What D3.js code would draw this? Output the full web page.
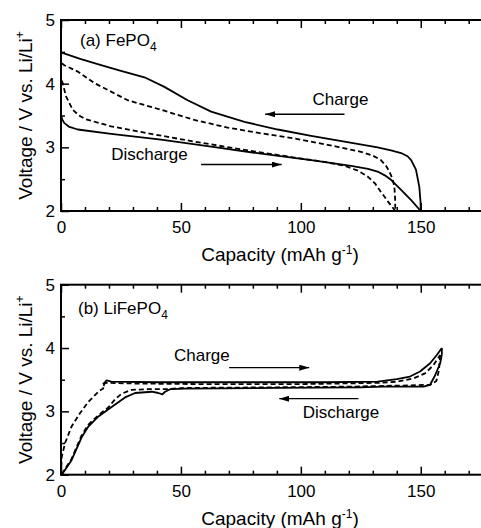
<!DOCTYPE html>
<html>
<head>
<meta charset="utf-8">
<script src="https://cdn.jsdelivr.net/npm/d3@7"></script>
<style>
  html, body { margin: 0; padding: 0; background: #fff; }
  text { font-family: "Liberation Sans", Arial, sans-serif; fill: #000; }
</style>
</head>
<body>
<svg id="chart" width="481" height="528"></svg>
<script>
// ---------------- DATA ----------------
// Capacity (mAh g-1), Voltage (V vs Li/Li+)
const xTicksMajor = [0, 50, 100, 150];
const yTicksMajor = [2, 3, 4, 5];

// (a) FePO4
const aSolidUpper = [[0,4.49],[8,4.39],[16.7,4.29],[25,4.20],[34.8,4.10],[43.1,3.95],[52.8,3.74],[62.6,3.56],[76.5,3.40],[90.4,3.28],[104.3,3.18],[118.2,3.09],[132,3.00],[138,2.95],[141.8,2.91],[144.5,2.86],[146,2.80],[148,2.65],[149.4,2.38],[149.9,2.15],[150,2.0]];
const aSolidLower = [[0,3.51],[0.5,3.44],[1.4,3.38],[3.5,3.32],[7,3.28],[20.9,3.21],[41.7,3.12],[62.6,3.01],[83.4,2.90],[104.3,2.80],[121,2.71],[128,2.66],[132,2.62],[135,2.56],[137.6,2.49],[141.8,2.33],[146,2.17],[150,2.0]];
const aDashUpper = [[0.3,4.32],[1.4,4.29],[7,4.19],[13.9,4.01],[27.8,3.74],[41.7,3.59],[55.6,3.43],[69.5,3.31],[83.4,3.22],[97.3,3.14],[111.2,3.04],[125.1,2.93],[130,2.87],[133.4,2.80],[135.5,2.71],[136.9,2.62],[138.3,2.50],[139,2.38],[139.3,2.20],[139.4,2.0]];
const aDashLower = [[0.3,4.05],[0.7,4.01],[2.1,3.80],[4.9,3.59],[7.5,3.50],[10.4,3.44],[20.9,3.33],[34.8,3.23],[55.6,3.09],[76.5,2.96],[97.3,2.84],[110,2.77],[118.2,2.71],[124,2.63],[127.9,2.54],[131,2.43],[133.4,2.30],[136.9,2.12],[139,2.02],[139.4,2.0]];

// (b) LiFePO4
const bSolidCharge = [[17.8,3.40],[18.3,3.46],[19,3.49],[21,3.47],[40,3.46],[80,3.46],[110,3.46],[132,3.47],[140,3.51],[145.5,3.55],[149.7,3.63],[153.9,3.76],[156.7,3.89],[158.8,4.0]];
const bSolidDischarge = [[158.8,4.0],[158.8,3.90],[158.1,3.76],[156,3.57],[153.9,3.42],[151.1,3.39],[134.5,3.39],[124.7,3.38],[90,3.37],[51.7,3.36],[45.5,3.35],[43.4,3.31],[42.3,3.27],[40.6,3.29],[37.8,3.31],[30.9,3.29],[26.7,3.22],[21.1,3.07],[15.6,2.92],[11.4,2.76],[8.6,2.59],[4.4,2.23],[0.3,2.0]];
const bDashCharge = [[0,2.0],[0.3,2.28],[1.7,2.50],[4.4,2.76],[7.9,2.97],[11.4,3.15],[15.6,3.31],[17,3.35],[17.6,3.36],[17.7,3.44],[19,3.45],[30,3.44],[60,3.43],[100,3.43],[132,3.45],[140.4,3.47],[146.9,3.52],[151.8,3.60],[155.3,3.73],[158.1,3.89]];
const bDashDischarge = [[158.1,3.89],[157.6,3.65],[156.5,3.48],[154,3.42],[145,3.41],[120,3.39],[90,3.38],[51.7,3.37],[43.4,3.35],[36.4,3.35],[29.5,3.34],[25.3,3.28],[22.5,3.19],[19.7,3.06],[15.6,2.94],[11.4,2.79],[8.6,2.62],[4.4,2.25],[1,2.05],[0.3,2.0]];

// ---------------- LAYOUT ----------------
const svg = d3.select("#chart");
const left = 61, right = 492.7;
const panels = [
  { top: 20, bottom: 211, label: "(a) FePO", labelPos: [80, 46],
    series: [[aSolidUpper, false], [aSolidLower, false], [aDashUpper, true], [aDashLower, true]],
    notes: [
      { text: "Charge", tx: 104.9, ty: 3.66, ax1: 118.2, ax2: 85.1, ay: 3.52 },
      { text: "Discharge", tx: 20.9, ty: 2.80, ax1: 58.4, ax2: 92.0, ay: 2.73 }
    ] },
  { top: 284.7, bottom: 474.7, label: "(b) LiFePO", labelPos: [78, 314],
    series: [[bSolidCharge, false], [bSolidDischarge, false], [bDashCharge, true], [bDashDischarge, true]],
    notes: [
      { text: "Charge", tx: 47.1, ty: 3.80, ax1: 70.1, ax2: 103.5, ay: 3.69 },
      { text: "Discharge", tx: 100.8, ty: 2.90, ax1: 124, ax2: 91, ay: 3.20 }
    ] }
];

svg.append("defs").append("marker")
  .attr("id", "ah").attr("viewBox", "0 0 10 6")
  .attr("refX", 10).attr("refY", 3)
  .attr("markerWidth", 10).attr("markerHeight", 6)
  .attr("markerUnits", "userSpaceOnUse")
  .attr("orient", "auto")
  .append("path").attr("d", "M0,0 L10,3 L0,6 Z").attr("fill", "#000");

panels.forEach(p => {
  const x = d3.scaleLinear().domain([0, 180]).range([left, right]);
  const y = d3.scaleLinear().domain([2, 5]).range([p.bottom, p.top]);
  const g = svg.append("g");

  const xMinor = d3.range(0, 181, 10).filter(v => v % 50 !== 0);
  const yMinor = [2.5, 3.5, 4.5];

  // bottom axis
  g.append("g").attr("transform", `translate(0,${p.bottom})`)
    .call(d3.axisBottom(x).tickValues(xTicksMajor).tickSize(-8).tickPadding(10).tickFormat(d3.format("d")));
  g.append("g").attr("transform", `translate(0,${p.bottom})`)
    .call(d3.axisBottom(x).tickValues(xMinor).tickSize(-4).tickFormat(""));
  // top axis
  g.append("g").attr("transform", `translate(0,${p.top})`)
    .call(d3.axisTop(x).tickValues(xTicksMajor).tickSize(-8).tickFormat(""));
  g.append("g").attr("transform", `translate(0,${p.top})`)
    .call(d3.axisTop(x).tickValues(xMinor).tickSize(-4).tickFormat(""));
  // left axis
  g.append("g").attr("transform", `translate(${left},0)`)
    .call(d3.axisLeft(y).tickValues(yTicksMajor).tickSize(-8).tickPadding(6).tickFormat(d3.format("d")));
  g.append("g").attr("transform", `translate(${left},0)`)
    .call(d3.axisLeft(y).tickValues(yMinor).tickSize(-4).tickFormat(""));
  // right axis
  g.append("g").attr("transform", `translate(${right},0)`)
    .call(d3.axisRight(y).tickValues(yTicksMajor).tickSize(-8).tickFormat(""));

  g.selectAll(".domain").remove();
  g.selectAll(".tick line").attr("stroke", "#000").attr("stroke-width", 1.5);
  g.selectAll(".tick text").style("font-family", '"Liberation Sans", Arial, sans-serif').style("font-size", "17px").attr("fill", "#000");

  g.append("rect").attr("x", left).attr("y", p.top)
    .attr("width", right - left).attr("height", p.bottom - p.top)
    .attr("fill", "none").attr("stroke", "#000").attr("stroke-width", 2);

  const line = d3.line().curve(d3.curveMonotoneX).x(d => x(d[0])).y(d => y(d[1]));
  const lineLin = d3.line().x(d => x(d[0])).y(d => y(d[1]));
  p.series.forEach(([data, dashed]) => {
    g.append("path").datum(data).attr("d", lineLin)
      .attr("fill", "none").attr("stroke", "#000")
      .attr("stroke-width", 1.8)
      .attr("stroke-linejoin", "round")
      .attr("stroke-dasharray", dashed ? "5,3" : null);
  });

  // panel label
  const lt = g.append("text").attr("x", p.labelPos[0]).attr("y", p.labelPos[1]).style("font-size", "17px");
  lt.append("tspan").text(p.label);
  lt.append("tspan").attr("dy", 5).style("font-size", "12px").text("4");

  // annotations
  p.notes.forEach(n => {
    g.append("text").attr("x", x(n.tx)).attr("y", y(n.ty)).style("font-size", "17px").text(n.text);
    g.append("line").attr("x1", x(n.ax1)).attr("x2", x(n.ax2))
      .attr("y1", y(n.ay)).attr("y2", y(n.ay))
      .attr("stroke", "#000").attr("stroke-width", 1.3)
      .attr("marker-end", "url(#ah)");
  });

  // x title
  const xt = g.append("text").attr("x", (left + 481) / 2 + 9).attr("y", p.bottom + 50)
    .attr("text-anchor", "middle").style("font-size", "19px");
  xt.append("tspan").text("Capacity (mAh g");
  xt.append("tspan").attr("dy", -7).style("font-size", "12px").text("-1");
  xt.append("tspan").attr("dy", 7).text(")");

  // y title
  const yt = g.append("text")
    .attr("transform", `translate(32,${(p.top + p.bottom) / 2}) rotate(-90)`)
    .attr("text-anchor", "middle").style("font-size", "19px");
  yt.append("tspan").text("Voltage / V vs. Li/Li");
  yt.append("tspan").attr("dy", -8).style("font-size", "12px").text("+");
});
</script>
</body>
</html>
